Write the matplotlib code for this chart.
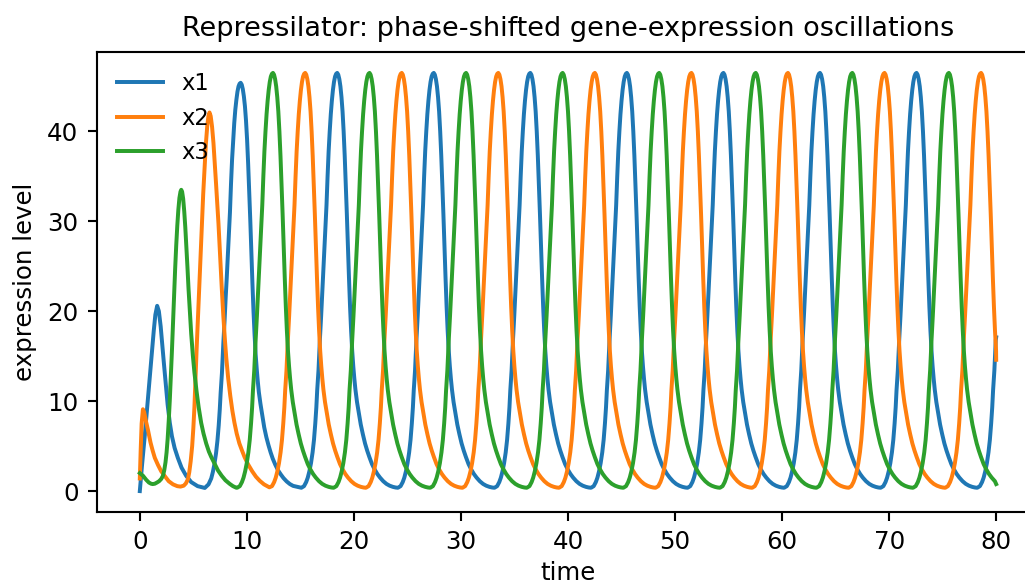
import matplotlib
matplotlib.use('Agg')
import matplotlib.pyplot as plt

# values -----------------------------------------------------------------------------------

# start of each curve (time, level), before the oscillation settles
x1_head_t = [0.0, 0.2, 0.45, 0.7, 0.9, 1.13, 1.3, 1.45, 1.62, 1.78, 1.95, 2.1, 2.25, 2.4, 2.6,
             2.8, 3.0, 3.25, 3.55, 3.9, 4.33, 4.8, 5.4, 6.07,
             6.42, 6.67, 6.82, 6.97, 7.12, 7.25, 7.37, 7.47, 7.55, 7.67, 7.8, 7.92, 8.02, 8.12,
             8.22, 8.32, 8.42, 8.52, 8.62, 8.72, 8.82, 8.92, 9.02, 9.12, 9.22, 9.32, 9.42, 9.52,
             9.62, 9.72, 9.82, 9.92, 10.02, 10.12, 10.22, 10.32, 10.42, 10.52, 10.62, 10.72,
             10.82, 10.92, 11.02, 11.12, 11.27, 11.42, 11.62, 11.82, 12.02, 12.22, 12.42, 12.67,
             12.92, 13.17, 13.42, 13.72, 14.02, 14.32]
x1_head_v = [0.0, 2.8, 6.0, 9.5, 12.3, 15.4, 17.8, 19.6, 20.6, 20.0, 18.3, 16.2, 14.2, 12.2, 9.6,
             7.6, 6.1, 4.8, 3.7, 2.6, 1.7, 1.0, 0.55, 0.35,
             0.75, 1.4, 2.1, 3.0, 4.2, 5.6, 7.3, 9.1, 10.9, 13.1, 16.4, 19.0, 21.5, 23.7,
             26.2, 28.6, 31.0, 34.2, 36.9, 39.0, 40.9, 42.4, 43.5, 44.4, 45.0, 45.3, 45.4, 45.2,
             44.7, 43.9, 42.8, 41.2, 39.1, 36.4, 33.4, 30.1, 26.6, 23.1, 20.0, 17.4,
             15.2, 13.6, 12.2, 11.0, 9.7, 8.6, 7.1, 6.0, 5.1, 4.3, 3.6, 2.9,
             2.3, 1.85, 1.45, 1.07, 0.78, 0.58]

x2_head_t = [0.0, 0.08, 0.17, 0.29, 0.4, 0.55, 0.76, 1.0, 1.2, 1.4, 1.7, 2.0, 2.31, 2.7, 3.1,
             3.5, 3.8, 4.1, 4.3, 4.49, 4.62, 4.75, 4.89, 5.0, 5.1, 5.2, 5.3, 5.42, 5.55, 5.68,
             5.8, 5.92, 6.05, 6.17, 6.3, 6.41, 6.51, 6.62, 6.75, 6.88, 7.0, 7.12, 7.23, 7.35,
             7.5, 7.65, 7.8, 7.95, 8.07, 8.25, 8.45, 8.65, 8.84, 9.05, 9.3, 9.55, 9.78, 10.1,
             10.5, 10.85, 11.2, 11.6, 12.1]
x2_head_v = [1.4, 4.5, 7.5, 9.1, 8.8, 7.9, 6.8, 5.4, 4.5, 3.7, 2.9, 2.2, 1.7, 1.1, 0.75,
             0.55, 0.5, 0.6, 0.85, 1.3, 2.1, 3.3, 5.0, 7.0, 9.3, 12.5, 15.6, 19.1, 22.6, 26.3,
             29.7, 33.0, 36.0, 38.6, 40.6, 41.7, 42.1, 41.7, 40.5, 38.7, 36.5, 34.2, 32.0, 29.7,
             26.2, 22.7, 19.5, 16.8, 14.9, 12.6, 10.6, 8.9, 7.6, 6.4, 5.3, 4.5, 3.8, 3.0,
             2.2, 1.6, 1.15, 0.75, 0.42]

x3_head_t = [0.0, 0.3, 0.6, 0.85, 1.05, 1.2, 1.4, 1.6, 1.8, 2.0, 2.16, 2.28, 2.4, 2.5, 2.6,
             2.7, 2.8, 2.9, 3.0, 3.1, 3.2, 3.3, 3.4, 3.5, 3.6, 3.7, 3.8, 3.87, 3.95, 4.05,
             4.15, 4.25, 4.35, 4.45, 4.55, 4.67, 4.8, 4.96, 5.1, 5.3, 5.5, 5.73, 5.95, 6.2,
             6.45, 6.67, 7.0, 7.3, 7.65, 8.0, 8.4, 8.7, 9.0]
x3_head_v = [2.0, 1.7, 1.25, 0.95, 0.82, 0.78, 0.82, 0.95, 1.1, 1.35, 1.7, 2.3, 3.2, 4.3, 5.8,
             7.8, 10.1, 12.8, 15.6, 18.7, 21.8, 24.7, 27.3, 29.5, 31.3, 32.6, 33.3, 33.5, 33.3, 32.5,
             31.1, 29.3, 27.2, 24.9, 22.5, 20.0, 17.5, 15.0, 13.2, 11.1, 9.3, 7.6, 6.4, 5.3,
             4.4, 3.8, 3.0, 2.3, 1.7, 1.2, 0.8, 0.55, 0.38]

# one settled cycle: time relative to the peak, level
cycle_dt = [-3.35, -3.1, -2.9, -2.75, -2.6, -2.45, -2.3, -2.17, -2.05, -1.95, -1.87, -1.75,
            -1.62, -1.5, -1.4, -1.3, -1.2, -1.1, -1.0, -0.9, -0.8, -0.7, -0.6, -0.5, -0.4,
            -0.3, -0.2, -0.1, 0.0, 0.1, 0.2, 0.3, 0.4, 0.5, 0.6, 0.7, 0.8, 0.9, 1.0, 1.1,
            1.2, 1.3, 1.4, 1.5, 1.6, 1.7, 1.85, 2.0, 2.2, 2.4, 2.6, 2.8, 3.0, 3.25, 3.5,
            3.75, 4.0, 4.3, 4.6, 4.9, 5.2, 5.45, 5.65]
cycle_val = [0.37, 0.55, 1.0, 1.5, 2.2, 3.1, 4.3, 5.7, 7.5, 9.3, 11.2, 13.4,
             16.8, 19.5, 22.0, 24.3, 26.8, 29.3, 31.8, 35.0, 37.8, 40.0, 41.9, 43.4, 44.6,
             45.5, 46.1, 46.4, 46.5, 46.3, 45.8, 45.0, 43.8, 42.2, 40.0, 37.3, 34.2, 30.8, 27.2, 23.7,
             20.5, 17.8, 15.6, 13.9, 12.5, 11.3, 9.9, 8.8, 7.4, 6.3, 5.3, 4.5, 3.8, 3.0, 2.4,
             1.9, 1.5, 1.1, 0.8, 0.6, 0.47, 0.4, 0.37]

# peak times of the settled cycles
x1_peaks = [18.44, 27.46, 36.48, 45.50, 54.52, 63.54, 72.56, 81.58]
x2_peaks = [15.45, 24.47, 33.49, 42.51, 51.53, 60.55, 69.57, 78.59]
x3_peaks = [12.44, 21.46, 30.48, 39.50, 48.52, 57.54, 66.56, 75.58]

# level at the last time step
t_end = 80.0
x1_end = 17.1
x2_end = 14.6
x3_end = 0.78

labels = ['x1', 'x2', 'x3']


def build(head_t, head_v, peaks, end_v):
    t = list(head_t)
    v = list(head_v)
    for p in peaks:
        for dt, val in zip(cycle_dt, cycle_val):
            tt = p + dt
            if t[-1] < tt < t_end:
                t.append(tt)
                v.append(val)
    t.append(t_end)
    v.append(end_v)
    return t, v


series = [build(x1_head_t, x1_head_v, x1_peaks, x1_end),
          build(x2_head_t, x2_head_v, x2_peaks, x2_end),
          build(x3_head_t, x3_head_v, x3_peaks, x3_end)]

# plotting ---------------------------------------------------------------------------------
plt.rcParams['font.size'] = 9.3

dpi = 190
fig = plt.figure(figsize=(1025 / dpi, 585 / dpi), dpi=dpi)
# axes run a bit past the right edge of the picture, like in the reference
ax = fig.add_axes([97 / 1025, 73 / 585, 942 / 1025, 460 / 585])

for (t, v), lab in zip(series, labels):
    ax.plot(t, v, label=lab)

ax.set_title('Repressilator: phase-shifted gene-expression oscillations', fontsize=10.3)
ax.set_xlabel('time', labelpad=2.5)
ax.set_ylabel('expression level')
ax.set_xticks(range(0, 81, 10))
ax.legend(loc='upper left', frameon=False, fontsize=8.6)

fig.savefig('out.png', dpi=dpi)
